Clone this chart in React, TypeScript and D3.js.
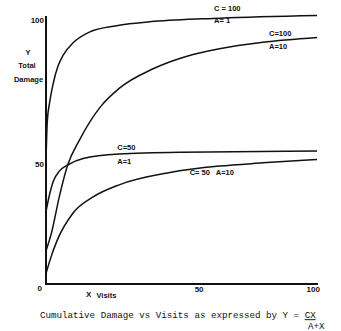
import React from "react";
import * as d3 from "d3";

// Curves: [X visits, Y total damage]
const c100a1: [number, number][] = [
  [0.1, 50], [0.5, 61], [1.3, 67.5], [2.7, 75], [4.5, 81.5], [6.4, 85.5], [10, 90], [16, 94], [26, 96.4], [40, 98], [64, 99.2], [100, 100.2],
];
const c100a10: [number, number][] = [
  [0.1, 12.7], [2, 19], [5, 33], [8, 44.4], [12.5, 54], [20, 66], [27, 73], [39.5, 80.3], [52, 85], [64, 87.8], [80, 90.2], [100, 92],
];
const c50a1: [number, number][] = [
  [0.1, 27.6], [1, 32], [2.7, 38.3], [5, 42.2], [8, 44.4], [13.7, 46.8], [27, 48.5], [50, 49.2], [100, 49.6],
];
const c50a10: [number, number][] = [
  [0.1, 4.2], [1.5, 9], [4, 16], [10, 26.5], [17.4, 32.5], [27, 37], [45.7, 41.6], [64, 44], [80, 45.2], [100, 46.5],
];

const curveLabels = [
  { lines: ["C = 100", "A= 1"], x: 62, y: [103, 98.3] },
  { lines: ["C=100", "A=10"], x: 82.3, y: [93.5, 88.7] },
  { lines: ["C=50", "A=1"], x: 26.3, y: [51, 45.8] },
  { lines: ["C= 50   A=10"], x: 53, y: [41.8] },
];

const xTickLabels = ["50", "100"];
const xTickPos = [56.5, 98.6];
const yTickLabels = ["0", "50", "100"];
const yTickPos = [-1.5, 44.6, 98.3];

const W = 341;
const H = 331;

export default function App() {
  const x = d3.scaleLinear().domain([0, 100]).range([46, 317]);
  const y = d3.scaleLinear().domain([0, 100]).range([284, 16]);
  const line = d3
    .line<[number, number]>()
    .x((d) => x(d[0]))
    .y((d) => y(d[1]))
    .curve(d3.curveMonotoneX);
  const series = [c100a1, c100a10, c50a1, c50a10];
  const sans = "'Liberation Sans', Arial, sans-serif";
  const mono = "'Liberation Mono', 'DejaVu Sans Mono', monospace";
  return (
    <svg
      width={W}
      height={H}
      style={{ position: "absolute", left: 0, top: 0, background: "#fff" }}
    >
      <rect width={W} height={H} fill="#fff" />
      {series.map((s, i) => (
        <path key={i} d={line(s) || ""} fill="none" stroke="#111" strokeWidth={1.5} />
      ))}
      <line x1={x(0)} x2={x(0)} y1={y(100)} y2={y(0) + 1} stroke="#111" strokeWidth={2} />
      <line x1={x(0) - 1} x2={x(100) + 1} y1={y(0)} y2={y(0)} stroke="#111" strokeWidth={2} />
      {yTickLabels.map((t, i) => (
        <text key={"y" + i} x={i === 0 ? 42 : 44} y={y(yTickPos[i])} dy="0.35em" textAnchor="end"
          fontFamily={sans} fontWeight="bold" fontSize={8} fill="#111">{t}</text>
      ))}
      {xTickLabels.map((t, i) => (
        <text key={"x" + i} x={x(xTickPos[i])} y={289.5} dy="0.35em" textAnchor="middle"
          fontFamily={sans} fontWeight="bold" fontSize={8} fill="#111">{t}</text>
      ))}
      <text x={28} y={52} dy="0.35em" textAnchor="middle" fontFamily={sans} fontWeight="bold" fontSize={7.5} fill="#111">Y</text>
      <text x={27} y={65} dy="0.35em" textAnchor="middle" fontFamily={sans} fontWeight="bold" fontSize={7.5} fill="#111">Total</text>
      <text x={28.5} y={79} dy="0.35em" textAnchor="middle" fontFamily={sans} fontWeight="bold" fontSize={7.5} fill="#111">Damage</text>
      <text x={86} y={294.5} dy="0.35em" fontFamily={sans} fontWeight="bold" fontSize={8} fill="#111">X</text>
      <text x={96.5} y={295.5} dy="0.35em" fontFamily={sans} fontWeight="bold" fontSize={7.5} fill="#111">Visits</text>
      {curveLabels.map((c, i) =>
        c.lines.map((l, j) => (
          <text key={i + "-" + j} x={x(c.x)} y={y(c.y[j])} dy="0.35em" fontFamily={sans}
            fontWeight="bold" fontSize={7.5} fill="#111" xmlSpace="preserve">{l}</text>
        ))
      )}
      <text x={40} y={315} dy="0.35em" fontFamily={mono} fontSize={9.2} fill="#111" xmlSpace="preserve">
        {"Cumulative Damage vs Visits as expressed by Y = "}
        <tspan textDecoration="underline">CX</tspan>
      </text>
      <text x={308} y={325.5} dy="0.35em" fontFamily={mono} fontSize={9.2} fill="#111">A+X</text>
    </svg>
  );
}
